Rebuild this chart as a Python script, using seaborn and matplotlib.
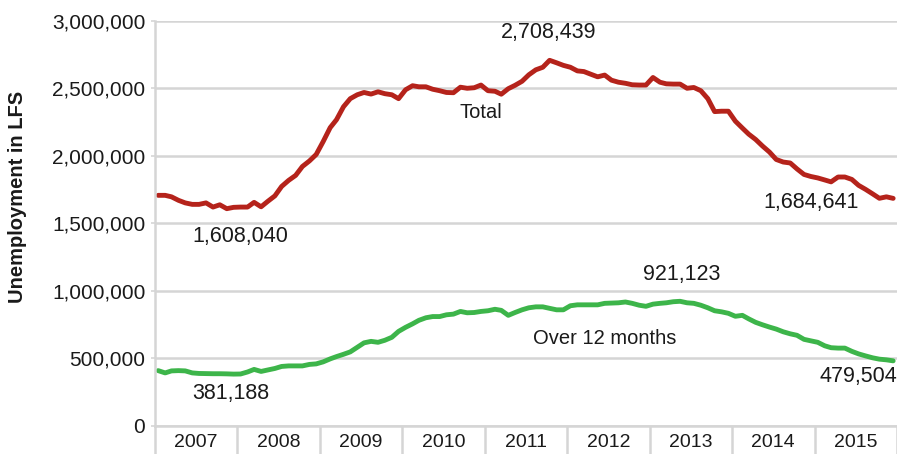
import numpy as np
import pandas as pd
import matplotlib
matplotlib.use("Agg")
import matplotlib.pyplot as plt
from matplotlib.ticker import FuncFormatter
import seaborn as sns

# monthly values Jan 2007 - Dec 2015
months = pd.date_range("2007-01-01", periods=108, freq="MS") + pd.Timedelta(days=14)

total = [
    1707000, 1707000, 1696000, 1670000, 1651000, 1640000, 1640000, 1651000, 1620000, 1637000, 1608040, 1618000,
    1620000, 1620000, 1655000, 1622000, 1663000, 1703000, 1773000, 1818000, 1855000, 1921000, 1962000, 2010000,
    2106000, 2209000, 2268000, 2364000, 2424000, 2453000, 2470000, 2458000, 2475000, 2461000, 2453000, 2424000,
    2490000, 2520000, 2512000, 2512000, 2494000, 2483000, 2470000, 2468000, 2509000, 2501000, 2505000, 2525000,
    2483000, 2479000, 2457000, 2498000, 2523000, 2553000, 2601000, 2638000, 2657000, 2708439, 2690000, 2671000,
    2657000, 2630000, 2625000, 2605000, 2586000, 2599000, 2561000, 2546000, 2538000, 2527000, 2525000, 2525000,
    2581000, 2546000, 2534000, 2532000, 2532000, 2501000, 2507000, 2483000, 2424000, 2328000, 2331000, 2331000,
    2257000, 2206000, 2161000, 2121000, 2073000, 2028000, 1973000, 1954000, 1947000, 1903000, 1862000, 1847000,
    1836000, 1821000, 1807000, 1843000, 1843000, 1825000, 1781000, 1751000, 1718000, 1685000, 1696000, 1684641,
]

over12 = [
    407000, 390000, 405000, 407000, 405000, 390000, 386000, 385000, 384000, 384000, 383000, 381188,
    382000, 397000, 416000, 401000, 412000, 423000, 438000, 442000, 442000, 442000, 453000, 457000,
    472000, 494000, 511000, 528000, 546000, 580000, 613000, 624000, 617000, 632000, 654000, 698000,
    728000, 754000, 780000, 799000, 808000, 808000, 821000, 826000, 846000, 836000, 838000, 846000,
    851000, 862000, 854000, 817000, 838000, 858000, 873000, 880000, 880000, 869000, 858000, 858000,
    888000, 895000, 895000, 895000, 895000, 906000, 908000, 910000, 916000, 906000, 892000, 884000,
    900000, 906000, 910000, 918000, 921123, 910000, 906000, 892000, 873000, 851000, 843000, 832000,
    810000, 817000, 791000, 765000, 747000, 730000, 715000, 695000, 680000, 669000, 639000, 628000,
    617000, 591000, 577000, 574000, 574000, 550000, 531000, 516000, 502000, 492000, 487000, 479504,
]

years = list(range(2007, 2016))

df = pd.DataFrame({"month": months, "Total": total, "Over 12 months": over12})

sns.set_style("white")
plt.rcParams["font.family"] = ["Liberation Sans", "DejaVu Sans"]

red = "#B5231B"
green = "#3DB54A"
grid = "#D5D5D5"
txt = "#1a1a1a"

fig = plt.figure(figsize=(8.97, 4.54), dpi=100)
ax = fig.add_axes([155 / 897, (454 - 425.5) / 454, 742 / 897, (425.5 - 21) / 454])

sns.lineplot(data=df, x="month", y="Total", ax=ax, color=red, linewidth=3.5)
sns.lineplot(data=df, x="month", y="Over 12 months", ax=ax, color=green, linewidth=3.5)

ax.set_ylim(0, 3000000)
ax.set_xlim(pd.Timestamp("2007-01-01"), pd.Timestamp("2016-01-01"))
ax.set_yticks(np.arange(0, 3000001, 500000))
ax.yaxis.set_major_formatter(FuncFormatter(lambda v, p: f"{int(v):,}"))
ax.grid(axis="y", color=grid, linewidth=1.8)
ax.set_axisbelow(True)

for s in ["top", "right"]:
    ax.spines[s].set_visible(False)
for s in ["left", "bottom"]:
    ax.spines[s].set_color(grid)
    ax.spines[s].set_linewidth(1.8)

# year labels in the middle, separators at year boundaries
ax.set_xticks([pd.Timestamp(f"{y}-07-01") for y in years])
ax.set_xticklabels([str(y) for y in years])
ax.set_xticks([pd.Timestamp(f"{y}-01-01") for y in years + [2016]], minor=True)
ax.tick_params(axis="x", which="both", bottom=True)
ax.tick_params(axis="y", which="major", left=True)
ax.tick_params(axis="x", which="major", length=0, pad=6, labelsize=14, labelcolor=txt)
ax.tick_params(axis="x", which="minor", length=21, width=1.8, color=grid)
ax.tick_params(axis="y", length=3, width=1.2, color=grid, pad=4, labelsize=15, labelcolor=txt)

ax.set_xlabel("")
ax.set_ylabel("Unemployment in LFS", fontsize=14.5, fontweight="bold", color=txt)
ax.yaxis.set_label_coords(-0.173, 0.565)

# value annotations
tot = np.array(total)
o12 = np.array(over12)
fs = 15.5


def note(i, vals, dx, dy, ha="center"):
    ax.annotate(f"{vals[i]:,}", (months[i], vals[i]), xytext=(dx, dy),
                textcoords="offset points", ha=ha, va="center", fontsize=fs, color=txt,
                annotation_clip=False)


note(int(tot[:30].argmin()), tot, 10, -20)
note(int(tot.argmax()), tot, -1, 20)
note(len(tot) - 1, tot, -59, -3)
note(int(o12[:20].argmin()), o12, -2, -14)
note(int(o12.argmax()), o12, 1.5, 19)
note(len(o12) - 1, o12, 3, -11, ha="right")

ax.text(pd.Timestamp("2010-12-15"), 2320000, "Total", ha="center", va="center", fontsize=14.5, color=txt)
ax.text(pd.Timestamp("2012-06-15"), 643000, "Over 12 months", ha="center", va="center", fontsize=14.5, color=txt)

fig.savefig("out.png", dpi=100)
